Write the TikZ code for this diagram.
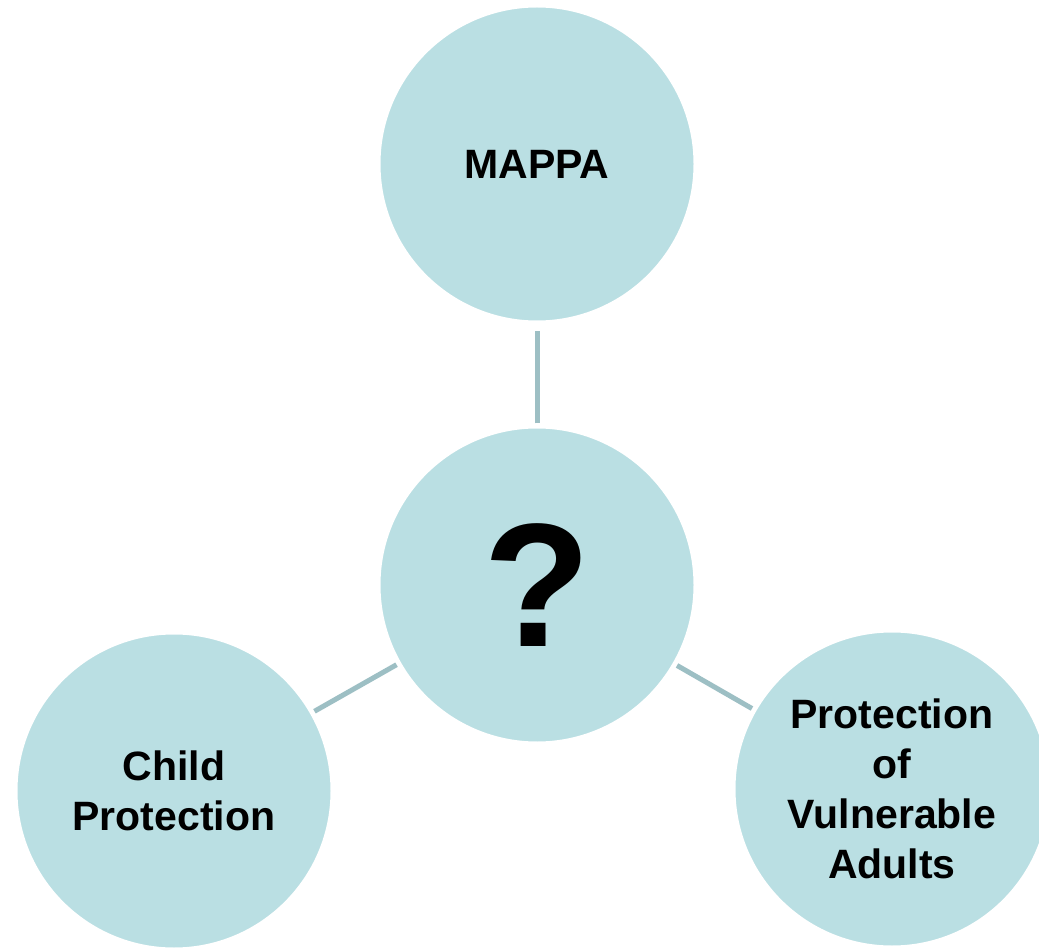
\documentclass[tikz,border=0pt]{standalone}
\usepackage{fontspec}
\setmainfont{Liberation Sans}
\definecolor{bubble}{HTML}{BADFE3}
\definecolor{spoke}{HTML}{9DBFC4}
\tikzset{
  bubble/.style={circle,fill=bubble,draw=white,line width=3pt,minimum size=316pt,inner sep=0pt,
    align=center,font=\fontsize{41}{50}\selectfont\bfseries},
  spoke/.style={draw=spoke,line width=5pt}
}
\begin{document}
\begin{tikzpicture}[x=1pt,y=-1pt]
\useasboundingbox[fill=white](0,0)rectangle(1039,949);
\node[bubble](mappa)at(537,164){MAPPA};
\node[bubble,font=\fontsize{176}{180}\selectfont\bfseries](hub)at(537,585){?};
\node[bubble](child)at(174,791){Child\\Protection};
\node[bubble](adults)at(892,789){Protection\\of\\Vulnerable\\Adults};
\draw[spoke,shorten <=2pt,shorten >=8pt](hub)--(mappa);
\draw[spoke,shorten <=2pt,shorten >=2pt](hub)--(child);
\draw[spoke,shorten <=2pt,shorten >=2pt](hub)--(adults);
\end{tikzpicture}
\end{document}
